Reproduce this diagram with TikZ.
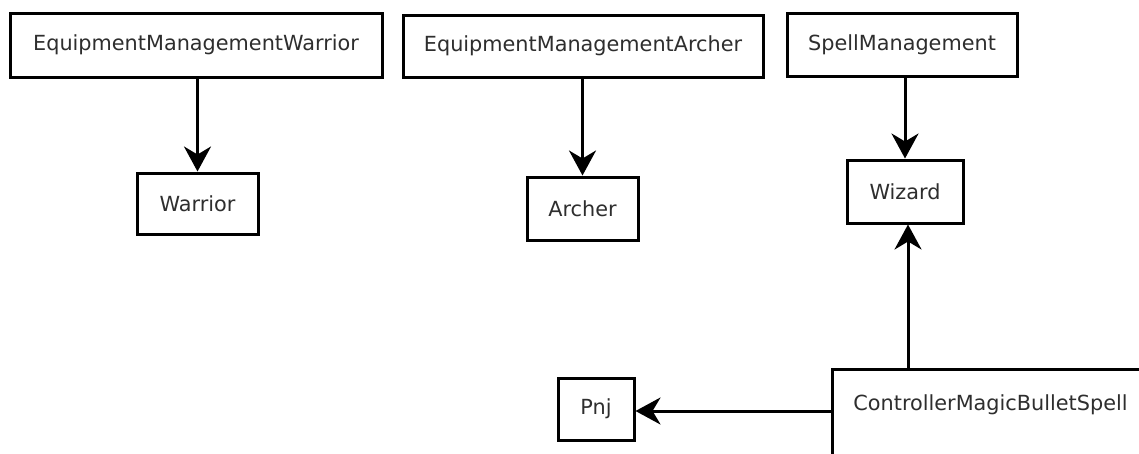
\documentclass[tikz,border=0pt]{standalone}
\usepackage{fontspec}
\setmainfont{DejaVu Sans}
\usetikzlibrary{arrows.meta}
\definecolor{txt}{HTML}{2E2E2E}
\tikzset{
  box/.style={draw=black, line width=3pt, fill=white, inner sep=0pt, text=txt,
    font=\fontsize{20.8}{24}\selectfont, rectangle},
  conn/.style={line width=3pt, -{Stealth[length=25pt, width=27pt, inset=8pt]}}
}
\begin{document}
\begin{tikzpicture}[x=1pt, y=-1pt]
\useasboundingbox (0,0) rectangle (1139,453);
\clip (0,0) rectangle (1139,453);
\fill[white] (0,0) rectangle (1139,453);

\node[box, minimum width=372pt, minimum height=64pt] (emw) at (196,45) {EquipmentManagementWarrior};
\node[box, minimum width=121pt, minimum height=61pt] (war) at (197.5,203.5) {Warrior};
\node[box, minimum width=360pt, minimum height=62pt] (ema) at (583,46) {EquipmentManagementArcher};
\node[box, minimum width=111pt, minimum height=63pt] (arc) at (582.5,208.5) {Archer};
\node[box, minimum width=230pt, minimum height=63pt] (spm) at (902,44.5) {SpellManagement};
\node[box, minimum width=116pt, minimum height=63pt] (wiz) at (905,191.5) {Wizard};
\node[box, minimum width=76pt, minimum height=62pt] (pnj) at (596,409) {Pnj};
\node[box, anchor=north west, minimum width=316pt, text height=15pt, text depth=60pt, inner ysep=26pt] (ctrl) at (831,368) {ControllerMagicBulletSpell};

\draw[conn] (emw.south -| war.north) -- (war.north);
\draw[conn] (ema.south -| arc.north) -- (arc.north);
\draw[conn] (spm.south -| wiz.north) -- (wiz.north);
\draw[conn] (ctrl.north -| wiz.south) ++(3,0) coordinate (cw) -- (cw |- wiz.south);
\draw[conn] (ctrl.west |- pnj.east) ++(0,2) coordinate (cp) -- (cp -| pnj.east);
\end{tikzpicture}
\end{document}
